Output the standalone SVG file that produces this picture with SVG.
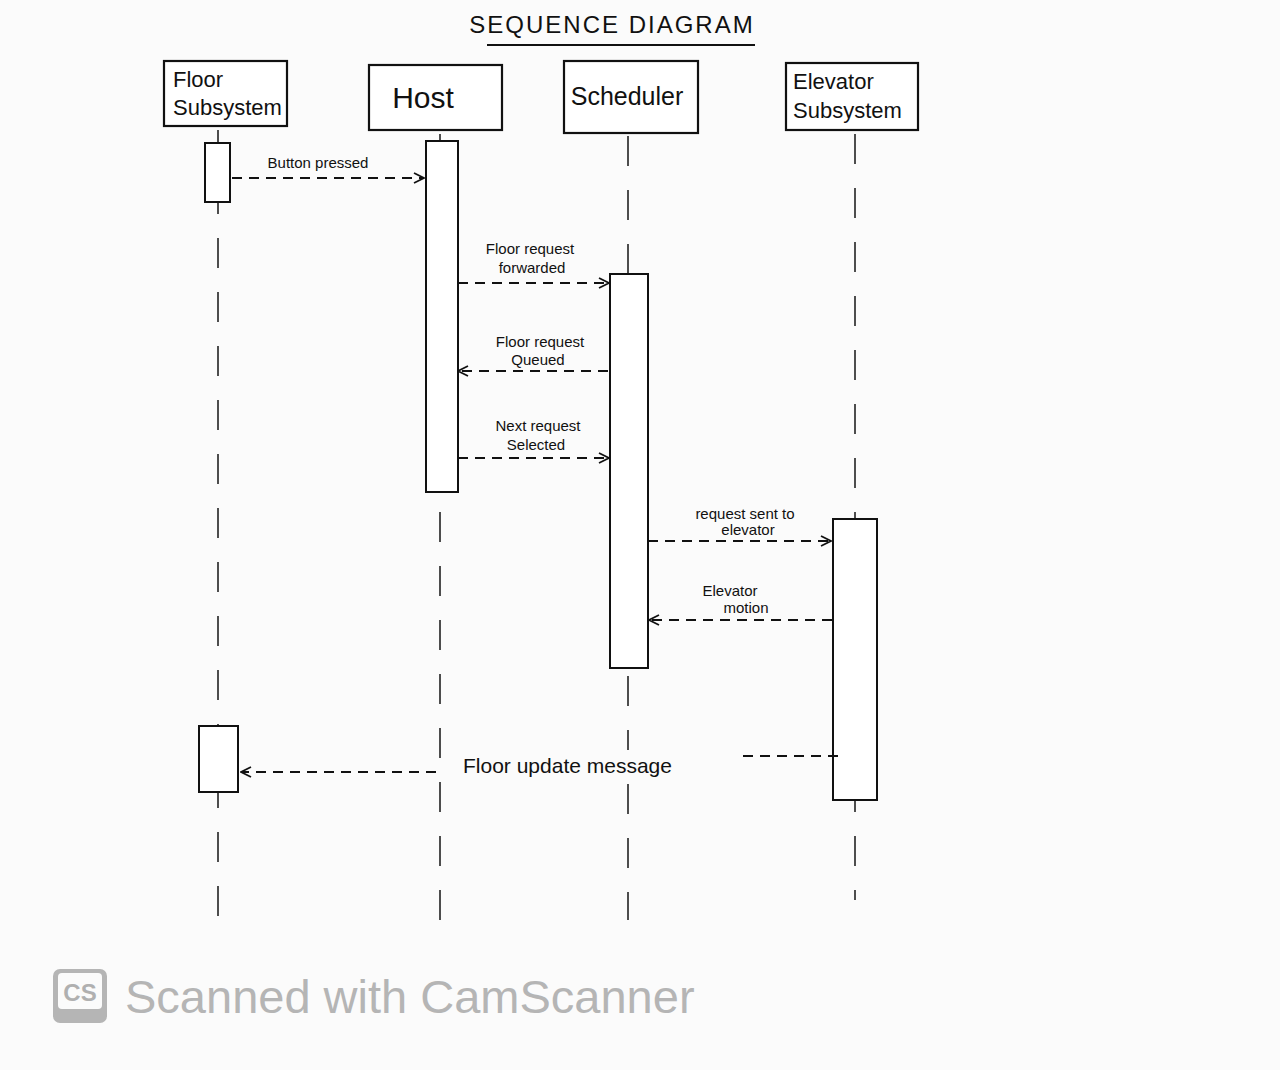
<svg xmlns="http://www.w3.org/2000/svg" width="1280" height="1070" viewBox="0 0 1280 1070">
<defs>
<style>
.box{fill:#fff;stroke:#111;stroke-width:2.2}
.act{fill:#fff;stroke:#111;stroke-width:2}
.life{stroke:#222;stroke-width:1.6;stroke-dasharray:30 24;fill:none}
.msg{stroke:#111;stroke-width:1.8;stroke-dasharray:10 7;fill:none}
.t{font-family:"Liberation Sans",Arial,sans-serif;fill:#111}
.name{font-size:22px}
.lbl{font-size:15px;text-anchor:middle}
</style>
<marker id="arr" viewBox="0 0 12 12" refX="11" refY="6" markerWidth="12" markerHeight="12" markerUnits="userSpaceOnUse" orient="auto">
<path d="M1,1 L11,6 L1,11" fill="none" stroke="#111" stroke-width="1.8"/>
</marker>
</defs>
<rect width="1280" height="1070" fill="#fbfbfb"/>

<g id="title">
<text class="t" x="612" y="33" font-size="24" text-anchor="middle" letter-spacing="2">SEQUENCE DIAGRAM</text>
<line x1="487" y1="45" x2="755" y2="45" stroke="#111" stroke-width="2"/>
</g>

<g id="connectors">
<line class="life" x1="218" y1="130" x2="218" y2="920"/>
<line class="life" x1="440" y1="134" x2="440" y2="920"/>
<line class="life" x1="628" y1="136" x2="628" y2="920"/>
<line class="life" x1="855" y1="134" x2="855" y2="900"/>
</g>

<g id="floor-subsystem">
<rect class="box" x="164" y="61" width="123" height="65"/>
<text class="t name" x="173" y="87">Floor</text>
<text class="t name" x="173" y="115">Subsystem</text>
<rect class="act" x="205" y="143" width="25" height="59"/>
<rect class="act" x="199" y="726" width="39" height="66"/>
</g>

<g id="host">
<rect class="box" x="369" y="65" width="133" height="65"/>
<text class="t" x="423" y="108" font-size="30" text-anchor="middle">Host</text>
<rect class="act" x="426" y="141" width="32" height="351"/>
</g>

<g id="scheduler">
<rect class="box" x="564" y="61" width="134" height="72"/>
<text class="t" x="627" y="105" font-size="25" text-anchor="middle">Scheduler</text>
<rect class="act" x="610" y="274" width="38" height="394"/>
</g>

<g id="elevator-subsystem">
<rect class="box" x="786" y="63" width="132" height="67"/>
<text class="t name" x="793" y="89">Elevator</text>
<text class="t name" x="793" y="118">Subsystem</text>
<rect class="act" x="833" y="519" width="44" height="281"/>
</g>

<g id="messages">
<line class="msg" x1="232" y1="178" x2="424" y2="178" marker-end="url(#arr)"/>
<text class="t lbl" x="318" y="168">Button pressed</text>

<line class="msg" x1="458" y1="283" x2="609" y2="283" marker-end="url(#arr)"/>
<text class="t lbl" x="530" y="254">Floor request</text>
<text class="t lbl" x="532" y="273">forwarded</text>

<line class="msg" x1="608" y1="371" x2="458" y2="371" marker-end="url(#arr)"/>
<text class="t lbl" x="540" y="347">Floor request</text>
<text class="t lbl" x="538" y="365">Queued</text>

<line class="msg" x1="458" y1="458" x2="609" y2="458" marker-end="url(#arr)"/>
<text class="t lbl" x="538" y="431">Next request</text>
<text class="t lbl" x="536" y="450">Selected</text>

<line class="msg" x1="648" y1="541" x2="831" y2="541" marker-end="url(#arr)"/>
<text class="t lbl" x="745" y="519">request sent to</text>
<text class="t lbl" x="748" y="535">elevator</text>

<line class="msg" x1="832" y1="620" x2="649" y2="620" marker-end="url(#arr)"/>
<text class="t lbl" x="730" y="596">Elevator</text>
<text class="t lbl" x="746" y="613">motion</text>

<line class="msg" x1="838" y1="756" x2="736" y2="756" stroke-dasharray="20 18"/>
<line class="msg" x1="436" y1="772" x2="241" y2="772" stroke-dasharray="20 25" marker-end="url(#arr)"/>
<rect x="458" y="750" width="236" height="32" fill="#fbfbfb"/>
<text class="t" x="463" y="773" font-size="21">Floor update message</text>
</g>

<g id="watermark">
<rect x="53" y="969" width="54" height="54" rx="7" fill="#b5b5b5"/>
<rect x="58" y="973" width="44" height="36" rx="4" fill="#fbfbfb"/>
<text x="80" y="1001" font-family="Liberation Sans,Arial,sans-serif" font-size="24" font-weight="bold" fill="#b0b0b0" text-anchor="middle">CS</text>
<text x="125" y="1013" font-family="Liberation Sans,Arial,sans-serif" font-size="47" fill="#b5b5b5">Scanned with CamScanner</text>
</g>
</svg>
